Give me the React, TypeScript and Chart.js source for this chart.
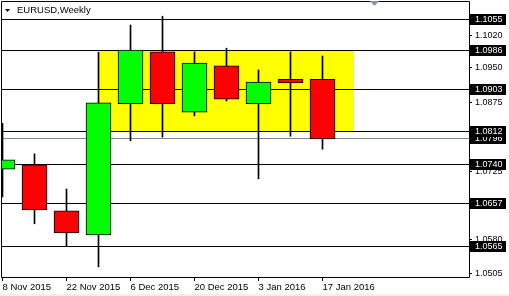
import React, { useEffect, useRef } from 'react';
import { Chart, registerables } from 'chart.js';

Chart.register(...registerables);

const weeks = ['8 Nov 2015', '15 Nov 2015', '22 Nov 2015', '29 Nov 2015', '6 Dec 2015', '13 Dec 2015', '20 Dec 2015', '27 Dec 2015', '3 Jan 2016', '10 Jan 2016', '17 Jan 2016'];
const opens = [1.0731, 1.0740, 1.0641, 1.0589, 1.0872, 1.0984, 1.0854, 1.0954, 1.0872, 1.0925, 1.0925];
const highs = [1.0830, 1.0764, 1.0688, 1.0983, 1.1042, 1.1061, 1.0984, 1.0992, 1.0945, 1.0984, 1.0975];
const lows = [1.0671, 1.0613, 1.0565, 1.0520, 1.0792, 1.0800, 1.0846, 1.0878, 1.0710, 1.0802, 1.0774];
const closes = [1.0751, 1.0643, 1.0593, 1.0874, 1.0988, 1.0872, 1.0960, 1.0882, 1.0919, 1.0917, 1.0796];

const levels = [1.1055, 1.0986, 1.0903, 1.0812, 1.0740, 1.0657, 1.0565];
const bidLevel = 1.0796;
const priceTicks = [1.1020, 1.0950, 1.0875, 1.0725, 1.0580, 1.0505];
const dateTickIdx = [0, 2, 4, 6, 8, 10];
const zoneIdx = [3, 11];
const zonePrices = [1.0986, 1.0812];
const title = 'EURUSD,Weekly';

const FONT = '"Liberation Sans", Arial, sans-serif';

export default function App() {
  const ref = useRef<HTMLCanvasElement | null>(null);

  useEffect(() => {
    document.body.style.margin = '0';
    const canvas = ref.current!;
    const overlay = {
      id: 'mt4',
      beforeDraw(chart: any) {
        const c = chart.ctx;
        c.save();
        c.fillStyle = '#ffffff';
        c.fillRect(0, 0, chart.width, chart.height);
        c.fillStyle = '#f0f0f0';
        c.fillRect(0, 294, chart.width, 2);
        c.restore();
      },
      beforeDatasetsDraw(chart: any) {
        const c = chart.ctx;
        const xs = chart.scales.x;
        const ys = chart.scales.y;
        const a = chart.chartArea;
        c.save();
        c.beginPath();
        c.rect(a.left, a.top, a.right - a.left, a.bottom - a.top);
        c.clip();
        const x1 = Math.round(xs.getPixelForValue(zoneIdx[0]) - 0.5);
        const x2 = Math.round(xs.getPixelForValue(zoneIdx[1]) - 0.5);
        const y1 = Math.floor(ys.getPixelForValue(zonePrices[0]));
        const y2 = Math.floor(ys.getPixelForValue(zonePrices[1]));
        c.fillStyle = '#ffff00';
        c.fillRect(x1, y1, x2 - x1, y2 - y1);
        c.lineWidth = 1;
        c.strokeStyle = '#000000';
        for (const v of levels) {
          const y = Math.floor(ys.getPixelForValue(v)) + 0.5;
          c.beginPath();
          c.moveTo(a.left, y);
          c.lineTo(a.right, y);
          c.stroke();
        }
        c.strokeStyle = '#7b8794';
        const yb = Math.floor(ys.getPixelForValue(bidLevel)) + 0.5;
        c.beginPath();
        c.moveTo(a.left, yb);
        c.lineTo(a.right, yb);
        c.stroke();
        c.restore();
      },
      afterDraw(chart: any) {
        const c = chart.ctx;
        const ys = chart.scales.y;
        const a = chart.chartArea;
        c.save();
        c.strokeStyle = '#000000';
        c.lineWidth = 1;
        c.beginPath();
        c.moveTo(1.5, 1.5);
        c.lineTo(a.right + 0.5, 1.5);
        c.lineTo(a.right + 0.5, a.bottom + 0.5);
        c.lineTo(1.5, a.bottom + 0.5);
        c.closePath();
        c.stroke();
        c.fillStyle = '#000000';
        c.beginPath();
        c.moveTo(5, 9);
        c.lineTo(10, 9);
        c.lineTo(7.5, 12);
        c.closePath();
        c.fill();
        c.font = `9.5px ${FONT}`;
        c.textBaseline = 'middle';
        c.textAlign = 'left';
        c.fillText(title, 17, 10);
        c.fillStyle = '#8896a4';
        c.beginPath();
        c.moveTo(370, 1);
        c.lineTo(379, 1);
        c.lineTo(374.5, 6);
        c.closePath();
        c.fill();
        c.font = `9px ${FONT}`;
        const drawLabel = (v: number) => {
          const py = Math.floor(ys.getPixelForValue(v)) + 0.5;
          c.fillStyle = '#000000';
          c.fillRect(a.right + 1, Math.round(py - 5.5), 36, 11);
          c.fillStyle = '#ffffff';
          c.fillText(v.toFixed(4), a.right + 6, py + 0.5);
        };
        drawLabel(bidLevel);
        for (const v of levels) drawLabel(v);
        c.restore();
      },
    };

    const chart = new Chart(canvas, {
      type: 'bar',
      data: {
        datasets: [
          {
            label: 'wick',
            data: weeks.map((_, i) => ({ x: i, y: [lows[i], highs[i]] })) as any,
            backgroundColor: '#000000',
            borderWidth: 0,
            barThickness: 1,
            grouped: false,
            order: 2,
          } as any,
          {
            label: 'body',
            data: weeks.map((_, i) => ({ x: i, y: [opens[i], closes[i]] })) as any,
            backgroundColor: weeks.map((_, i) => (closes[i] >= opens[i] ? '#00ff00' : '#ff0000')),
            borderColor: '#000000',
            borderWidth: 1,
            borderSkipped: false,
            barThickness: 25,
            grouped: false,
            order: 1,
          } as any,
        ],
      },
      options: {
        responsive: false,
        animation: false,
        devicePixelRatio: 1,
        layout: { padding: { left: 2, top: 1, right: 0, bottom: 0 } },
        plugins: { legend: { display: false }, tooltip: { enabled: false }, title: { display: false } },
        scales: {
          x: {
            type: 'linear',
            offset: false,
            min: -1 / 64,
            max: -1 / 64 + 467 / 32,
            afterBuildTicks: (s: any) => {
              s.ticks = dateTickIdx.map((v) => ({ value: v }));
            },
            afterFit: (s: any) => {
              s.height = 19;
              s.paddingLeft = 0;
              s.paddingRight = 0;
              s.paddingTop = 0;
              s.paddingBottom = 0;
            },
            grid: { offset: false, drawOnChartArea: false, drawTicks: true, tickLength: 4, color: '#000000' },
            border: { display: false },
            ticks: {
              autoSkip: false,
              maxRotation: 0,
              minRotation: 0,
              align: 'start',
              padding: 1,
              color: '#000000',
              font: { family: FONT, size: 9.5 },
              callback: (v: any) => weeks[Math.round(Number(v))] ?? '',
            },
          },
          y: {
            type: 'linear',
            position: 'right',
            min: 1.049809,
            max: 1.109386,
            afterBuildTicks: (s: any) => {
              s.ticks = priceTicks.map((v) => ({ value: v }));
            },
            afterFit: (s: any) => {
              s.width = 40;
              s.paddingLeft = 0;
              s.paddingRight = 0;
              s.paddingTop = 0;
              s.paddingBottom = 0;
            },
            grid: { drawOnChartArea: false, drawTicks: true, tickLength: 3, color: '#000000' },
            border: { display: false },
            ticks: {
              padding: 3,
              color: '#000000',
              font: { family: FONT, size: 9 },
              callback: (v: any) => Number(v).toFixed(4),
            },
          },
        },
      },
      plugins: [overlay],
    } as any);

    return () => chart.destroy();
  }, []);

  return (
    <div style={{ position: 'absolute', left: 0, top: 0, width: 509, height: 296 }}>
      <canvas ref={ref} width={509} height={296} style={{ display: 'block', width: 509, height: 296 }} />
    </div>
  );
}
